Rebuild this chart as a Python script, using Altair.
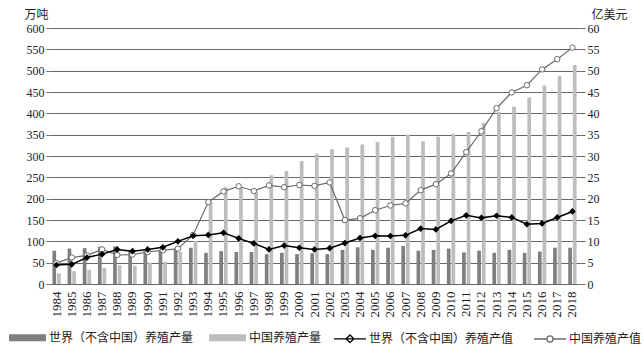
import altair as alt
import pandas as pd

years = [str(y) for y in range(1984, 2019)]

# 万吨
world_prod = [78, 83, 84, 87, 88, 77, 77, 77, 81, 85,
              73, 77, 75, 75, 70, 73, 70, 72, 70, 80,
              86, 80, 85, 89, 78, 80, 83, 74, 78, 73,
              80, 73, 76, 85, 85]
china_prod = [25, 30, 33, 38, 44, 43, 50, 52, 75, 101,
              193, 227, 226, 216, 255, 265, 288, 305, 316, 320,
              327, 333, 345, 350, 334, 345, 352, 356, 378, 403,
              416, 437, 465, 487, 513]
# 亿美元
world_value = [4.45, 4.6, 6.2, 7.0, 8.1, 7.7, 8.1, 8.6, 10.0, 11.3,
               11.5, 12.0, 10.7, 9.5, 8.1, 9.0, 8.5, 8.1, 8.4, 9.6,
               10.8, 11.3, 11.25, 11.4, 13.0, 12.8, 14.8, 16.1, 15.5, 16.0,
               15.6, 14.0, 14.2, 15.6, 17.0]
china_value = [4.9, 6.2, 6.7, 8.1, 6.8, 6.9, 7.5, 7.9, 8.3, 11.5,
               19.2, 21.7, 22.9, 21.8, 23.1, 22.7, 23.2, 23.0, 23.8, 15.0,
               15.4, 17.3, 18.4, 18.9, 22.0, 23.4, 25.9, 30.9, 35.8, 41.2,
               44.9, 46.6, 50.3, 52.7, 55.4]

S_BAR_W = "世界（不含中国）养殖产量"
S_BAR_C = "中国养殖产量"
S_LINE_W = "世界（不含中国）养殖产值"
S_LINE_C = "中国养殖产值"

left_ticks = list(range(0, 601, 50))
right_ticks = list(range(0, 61, 5))

bar_df = pd.DataFrame({
    "year": years * 2,
    "series": [S_BAR_W] * len(years) + [S_BAR_C] * len(years),
    "value": world_prod + china_prod,
})
lw_df = pd.DataFrame({"year": years, "series": S_LINE_W, "value": world_value})
lc_df = pd.DataFrame({"year": years, "series": S_LINE_C, "value": china_value})
line_df = pd.concat([lw_df, lc_df], ignore_index=True)

NUM_FONT = "Liberation Serif"
CJK_FONT = "Noto Sans CJK SC"
GRID = "#666666"
TXT = "#222222"

x_enc = alt.X(
    "year:N", sort=years,
    scale=alt.Scale(paddingInner=0.45, paddingOuter=0.225),
    axis=alt.Axis(title=None, labelAngle=-90, labelFont=NUM_FONT, labelFontSize=13,
                  labelColor=TXT, labelOverlap=False, ticks=False, domain=False,
                  labelPadding=7, grid=False),
)

y_left = alt.Y(
    "value:Q", scale=alt.Scale(domain=[0, 600], nice=False, zero=True),
    axis=alt.Axis(title="万吨", values=left_ticks, orient="left", grid=True, gridColor=GRID,
                  gridWidth=1, domain=False, ticks=True, tickSize=3, tickColor=GRID,
                  labelFont=NUM_FONT, labelFontSize=12, labelColor=TXT, labelPadding=2,
                  titleAngle=0, titleX=-13, titleY=-14, titleAlign="center",
                  titleBaseline="middle", titleFont=CJK_FONT, titleFontSize=12,
                  titleFontWeight="normal", titleColor=TXT),
)

y_right = alt.Y(
    "value:Q", scale=alt.Scale(domain=[0, 60], nice=False, zero=True),
    axis=alt.Axis(title="亿美元", values=right_ticks, orient="right", grid=False,
                  domain=False, ticks=True, tickSize=5, tickColor=GRID,
                  labelFont=NUM_FONT, labelFontSize=12, labelColor=TXT, labelPadding=2,
                  titleAngle=0, titleX=29, titleY=-14, titleAlign="center",
                  titleBaseline="middle", titleFont=CJK_FONT, titleFontSize=12,
                  titleFontWeight="normal", titleColor=TXT),
)

bars = alt.Chart(bar_df).mark_bar().encode(
    x=x_enc,
    xOffset=alt.XOffset("series:N", sort=[S_BAR_W, S_BAR_C],
                        scale=alt.Scale(paddingInner=0.2)),
    y=y_left,
    color=alt.Color(
        "series:N",
        scale=alt.Scale(domain=[S_BAR_W, S_BAR_C], range=["#7f7f7f", "#bdbdbd"]),
        legend=alt.Legend(
            title=None, orient="none", direction="horizontal",
            legendX=-40, legendY=291, padding=0,
            symbolType="M-1,-0.19L1,-0.19L1,0.19L-1,0.19Z", symbolSize=1369,
            symbolStrokeWidth=0, labelOffset=3, columnPadding=15,
            labelFont=CJK_FONT, labelFontSize=12, labelColor=TXT, labelLimit=0,
        ),
    ),
)

line_c = alt.Chart(lc_df).mark_line(
    color="#6a6a6a", strokeWidth=1.2,
    point=alt.OverlayMarkDef(shape="circle", filled=True, fill="white",
                             stroke="#6a6a6a", strokeWidth=1, size=30),
).encode(x=x_enc, y=y_right)

line_w = alt.Chart(lw_df).mark_line(
    color="black", strokeWidth=1.5,
    point=alt.OverlayMarkDef(shape="diamond", filled=True, color="black", size=45),
).encode(x=x_enc, y=y_right)

PATH_D = "M-1,0L1,0M0,-0.24L0.24,0L0,0.24L-0.24,0Z"
PATH_C = ("M-1,0L-0.19,0M0.19,0L1,0M-0.19,0A0.19,0.19,0,1,1,0.19,0"
          "A0.19,0.19,0,1,1,-0.19,0Z")

line_legend = dict(
    title=None, orient="none", direction="horizontal",
    legendX=284, legendY=293.5, padding=0,
    symbolSize=1024, symbolStrokeWidth=1.3, labelOffset=2, columnPadding=17,
    labelFont=CJK_FONT, labelFontSize=12, labelColor=TXT, labelLimit=0,
)

legend_layer = alt.Chart(line_df).mark_point(opacity=0, filled=True).encode(
    x=x_enc, y=y_right,
    shape=alt.Shape("series:N",
                    scale=alt.Scale(domain=[S_LINE_W, S_LINE_C], range=[PATH_D, PATH_C]),
                    legend=alt.Legend(**line_legend)),
    fill=alt.Fill("series:N",
                  scale=alt.Scale(domain=[S_LINE_W, S_LINE_C], range=["black", "white"]),
                  legend=alt.Legend(**line_legend)),
    stroke=alt.Stroke("series:N",
                      scale=alt.Scale(domain=[S_LINE_W, S_LINE_C], range=["black", "#6a6a6a"]),
                      legend=alt.Legend(**line_legend)),
)

lines = alt.layer(line_c, line_w, legend_layer)

chart = (
    alt.layer(bars, lines)
    .resolve_scale(y="independent")
    .properties(
        width=531, height=256,
        padding={"left": 49, "top": 28, "right": 64, "bottom": 70},
        autosize=alt.AutoSizeParams(type="none"),
        background="white",
    )
    .configure_view(stroke=None)
)

chart.save("out.html", embed_options={"renderer": "svg", "actions": False})
